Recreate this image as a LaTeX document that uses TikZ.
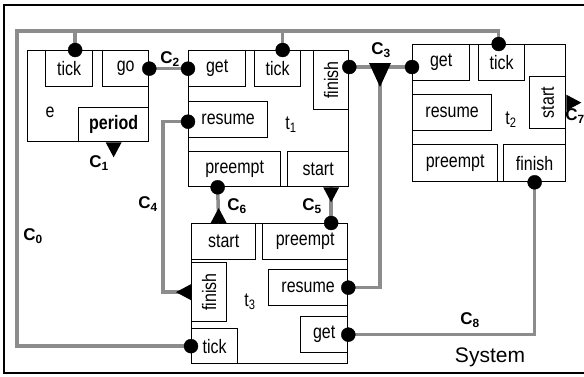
\documentclass[tikz,border=0pt]{standalone}
\usepackage{fontspec}
\setmainfont{Liberation Sans}
\newfontfamily\narrowfont[FakeStretch=0.82]{Liberation Sans}
\usetikzlibrary{calc}
\definecolor{wiregray}{RGB}{140,140,140}
\tikzset{
	comp/.style={draw, line width=1.3pt, inner sep=0pt, anchor=north west},
	port/.style={comp, font=\fontsize{19.5}{20}\narrowfont},
	wire/.style={draw=wiregray, line width=3.5pt},
	chan/.style={font=\fontsize{17}{17}\selectfont\bfseries},
	complab/.style={font=\fontsize{19.5}{20}\narrowfont},
	outtri/.pic={\fill (-8,0) -- (8,0) -- (0,15) -- cycle;}
}
\newcommand\chanlab[1]{C\textsubscript{#1}}
\newcommand\dotat[1]{\draw[fill=black] (#1) circle (7);}

\begin{document}
\begin{tikzpicture}[x=1pt, y=-1pt]
			%%%%% START %%%%%
			\useasboundingbox (0,0) rectangle (584,376);
			\draw[line width=1.5pt] (4,5) rectangle (592,373);
			
			% component e
			\node[comp, minimum width=121, minimum height=91] (e) at (27,50) {};
			\node[port, minimum width=47, minimum height=36] (etick) at (45,50) {tick};
			\node[port, minimum width=46, minimum height=36] (ego) at (102,50) {go};
			\node[port, minimum width=70, minimum height=34, font=\fontsize{19.5}{20}\narrowfont\bfseries] (eperiod) at (78,107) {period};
			\node[complab] (elab) at (50,112) {e};
			
			% component t1
			\node[comp, minimum width=160, minimum height=136] (t1) at (188,50) {};
			\node[port, minimum width=57, minimum height=36] (t1get) at (188,50) {get};
			\node[port, minimum width=46, minimum height=36] (t1tick) at (254,50) {tick};
			\node[port, minimum width=35, minimum height=59] (t1finish) at (313,50) {\rotatebox{90}{finish}};
			\node[port, minimum width=79, minimum height=36] (t1resume) at (188,101) {resume};
			\node[port, minimum width=92, minimum height=35] (t1preempt) at (188,151) {preempt};
			\node[port, minimum width=61, minimum height=35] (t1start) at (287,151) {start};
			\node[complab] (t1lab) at (291,125) {t\textsubscript{1}};
			
			% component t2
			\node[comp, minimum width=153, minimum height=137] (t2) at (412,44) {};
			\node[port, minimum width=57, minimum height=36] (t2get) at (412,44) {get};
			\node[port, minimum width=46, minimum height=36] (t2tick) at (478,44) {tick};
			\node[port, minimum width=36, minimum height=52] (t2start) at (529,76) {\rotatebox{90}{start}};
			\node[port, minimum width=79, minimum height=36] (t2resume) at (412,94) {resume};
			\node[port, minimum width=85, minimum height=37] (t2preempt) at (412,144) {preempt};
			\node[port, minimum width=62, minimum height=37] (t2finish) at (503,144) {finish};
			\node[complab] (t2lab) at (511,120) {t\textsubscript{2}};
			
			% component t3
			\node[comp, minimum width=156, minimum height=140] (t3) at (191,223) {};
			\node[port, minimum width=64, minimum height=36] (t3start) at (191,223) {start};
			\node[port, minimum width=85, minimum height=36] (t3preempt) at (262,223) {preempt};
			\node[port, minimum width=35, minimum height=59] (t3finish) at (191,262) {\rotatebox{90}{finish}};
			\node[port, minimum width=79, minimum height=36] (t3resume) at (268,269) {resume};
			\node[port, minimum width=47, minimum height=36] (t3get) at (300,316) {get};
			\node[port, minimum width=46, minimum height=35] (t3tick) at (191,328) {tick};
			\node[complab] (t3lab) at (250,302) {t\textsubscript{3}};
			
			% connectors
			\coordinate (c0) at (17,31);
			\coordinate (c3) at (380,67);
			\coordinate (c4) at (163,0);
			\draw[wire] (t3tick.west) -| (c0) -| ([xshift=-3]t2tick.north);
			\draw[wire] ([xshift=6]etick.north) -- ([xshift=6]etick.north |- c0);
			\draw[wire] ([xshift=5]t1tick.north) -- ([xshift=5]t1tick.north |- c0);
			\draw[wire] (ego.east) -- (t1get.west);
			\draw[wire] (t1finish.east |- c3) -- (t2get.west |- c3);
			\draw[wire] (c3) |- (t3resume.east);
			\draw[wire] ([yshift=-2]t1resume.west) -| (c4 |- t3finish.west) -- (t3finish.west);
			\draw[wire] ([xshift=13]t1start.south) -- ([xshift=26]t3preempt.north);
			\draw[wire] ([xshift=-17]t1preempt.south) -- ([xshift=-5]t3start.north);
			\draw[wire] (t2finish.south) |- (t3get.east);
			
			% ends
			\dotat{[xshift=6]etick.north}
			\dotat{ego.east}
			\dotat{t1get.west}
			\dotat{[xshift=5]t1tick.north}
			\dotat{t1finish.east |- c3}
			\dotat{[yshift=-2]t1resume.west}
			\dotat{[xshift=-17]t1preempt.south}
			\dotat{t2get.west |- c3}
			\dotat{[xshift=-3]t2tick.north}
			\dotat{t2finish.south}
			\dotat{[xshift=26]t3preempt.north}
			\dotat{t3resume.east}
			\dotat{t3get.east}
			\dotat{t3tick.west}
			\pic at (eperiod.south) {outtri};
			\pic at ([xshift=13]t1start.south) {outtri};
			\pic[rotate=180] at ([xshift=-5]t3start.north) {outtri};
			\pic[rotate=-90] at (t3finish.west) {outtri};
			\pic[rotate=90] at (t2start.east) {outtri};
			\fill (c3) ++(-11,-4) -- ++(22,0) -- (380,87) -- cycle;
			
			% labels
			\node[chan] (c0lab) at (33,236) {\chanlab{0}};
			\node[chan] (c1lab) at (99,163) {\chanlab{1}};
			\node[chan] (c2lab) at (170,59) {\chanlab{2}};
			\node[chan] (c3lab) at (381,50) {\chanlab{3}};
			\node[chan] (c4lab) at (148,204) {\chanlab{4}};
			\node[chan] (c5lab) at (312,206) {\chanlab{5}};
			\node[chan] (c6lab) at (237,206) {\chanlab{6}};
			\node[chan] (c7lab) at (575,116) {\chanlab{7}};
			\node[chan] (c8lab) at (470,320) {\chanlab{8}};
			\node[font=\fontsize{21}{21}\selectfont] (syslab) at (490,357) {System};
			
			%%%%% END %%%%%
\end{tikzpicture}
\end{document}
